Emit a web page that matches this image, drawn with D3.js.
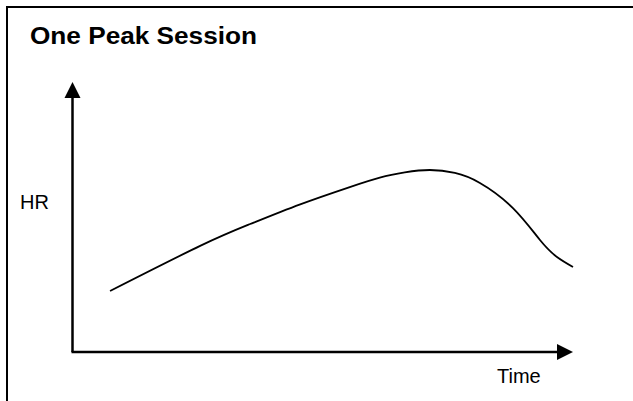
<!DOCTYPE html>
<html>
<head>
<meta charset="utf-8">
<script src="https://cdn.jsdelivr.net/npm/d3@7"></script>
<style>
  html, body { margin: 0; padding: 0; background: #fff; }
  svg { display: block; }
  text { font-family: "Liberation Sans", Arial, sans-serif; fill: #000; }
</style>
</head>
<body>
<div id="chart"></div>
<script>
// heart rate over one session (arbitrary units)
var title = "One Peak Session";
var xLabel = "Time";
var yLabel = "HR";
var timeVals = [7.5, 25.5, 35.5, 45.5, 55.4, 61.4, 66.4, 71.4, 76.4, 81.4, 88.0, 93.4, 96.8, 100];
var hrVals   = [22.6, 39.3, 47.4, 54.7, 61.1, 64.6, 66.5, 67.4, 66.3, 62.6, 53.3, 41.5, 35.2, 31.5];

var w = 633, h = 401;

var svg = d3.select("#chart").append("svg")
  .attr("width", w)
  .attr("height", h);

// frame (only top and left show inside the window)
svg.append("rect")
  .attr("x", 7).attr("y", 7)
  .attr("width", 700).attr("height", 500)
  .attr("fill", "none")
  .attr("stroke", "#000")
  .attr("stroke-width", 2);

// scales run to the arrow tips
var x = d3.scaleLinear().domain([0, 100]).range([72.5, 573]);
var y = d3.scaleLinear().domain([0, 100]).range([352, 82]);

// axes
svg.append("line")
  .attr("x1", x(0)).attr("y1", y(0))
  .attr("x2", x(0)).attr("y2", y(100) + 12)
  .attr("stroke", "#000").attr("stroke-width", 2.5);
svg.append("line")
  .attr("x1", x(0) - 1).attr("y1", y(0))
  .attr("x2", x(100) - 12).attr("y2", y(0))
  .attr("stroke", "#000").attr("stroke-width", 2.5);

// arrow heads
svg.append("path")
  .attr("d", "M" + x(0) + "," + y(100) + "L" + (x(0) - 8) + "," + (y(100) + 16) + "L" + (x(0) + 8) + "," + (y(100) + 16) + "Z")
  .attr("fill", "#000");
svg.append("path")
  .attr("d", "M" + x(100) + "," + y(0) + "L" + (x(100) - 16) + "," + (y(0) - 8) + "L" + (x(100) - 16) + "," + (y(0) + 8) + "Z")
  .attr("fill", "#000");

// the curve
var pts = timeVals.map(function(t, i) { return [t, hrVals[i]]; });
var line = d3.line()
  .x(function(d) { return x(d[0]); })
  .y(function(d) { return y(d[1]); })
  .curve(d3.curveNatural);

svg.append("path")
  .attr("d", line(pts))
  .attr("fill", "none")
  .attr("stroke", "#000")
  .attr("stroke-width", 1.8);

// texts
svg.append("text")
  .attr("x", 30).attr("y", 43.5)
  .attr("font-size", 23)
  .attr("font-weight", "bold")
  .attr("textLength", 227)
  .attr("lengthAdjust", "spacingAndGlyphs")
  .text(title);

svg.append("text")
  .attr("x", 20).attr("y", 209)
  .attr("font-size", 20)
  .text(yLabel);

svg.append("text")
  .attr("x", 497).attr("y", 383)
  .attr("font-size", 20)
  .text(xLabel);
</script>
</body>
</html>
